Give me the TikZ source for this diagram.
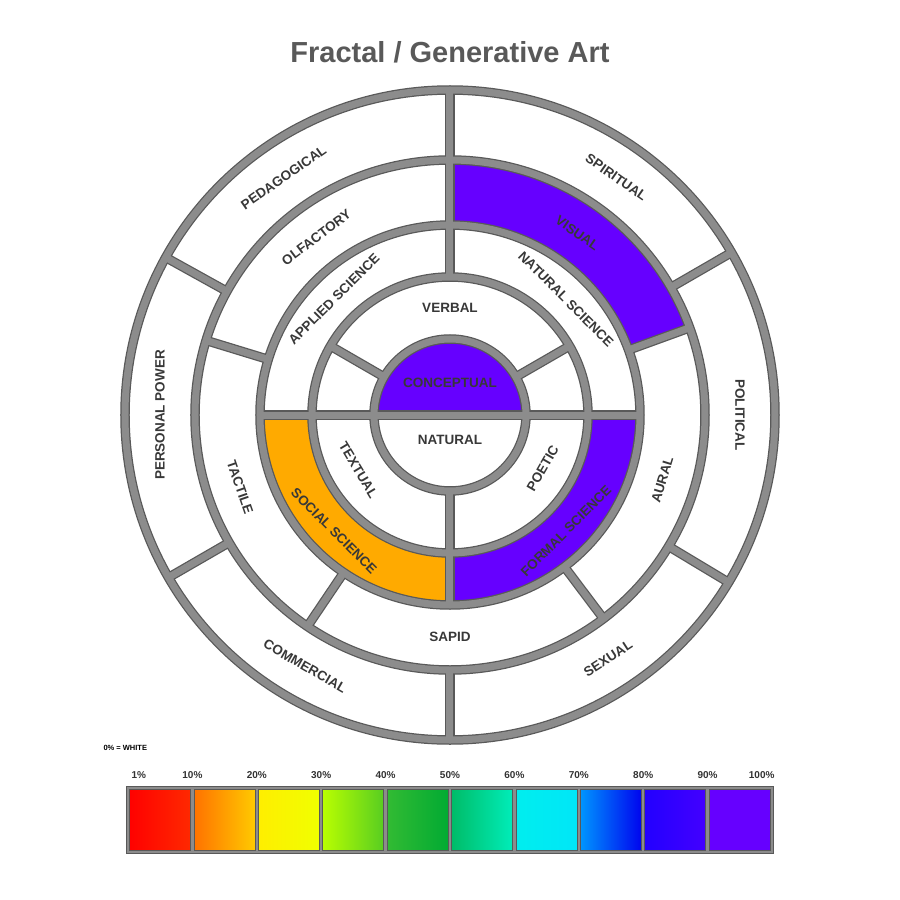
\documentclass[tikz,border=0pt]{standalone}
\usepackage{fontspec}
\setmainfont{Liberation Sans}
\begin{document}
\begin{tikzpicture}[x=1pt,y=1pt,
  lbl/.style={font=\fontsize{13.5}{14}\selectfont\bfseries, text=black!78},
  outl/.style={draw=black!65,line width=9.5pt},
  inl/.style={draw=black!45,line width=7pt},
  pct/.style={font=\fontsize{10}{10}\selectfont\bfseries, text=black!80}]
\definecolor{purp}{HTML}{6600FF}
\definecolor{orng}{HTML}{FFAA00}
\useasboundingbox (-450,415) rectangle (450,-485);
\fill[white] (-450,415) rectangle (450,-485);
\newcommand{\sect}[5]{\fill[#5] (#1:#3) arc (#1:#2:#3) -- (#2:#4) arc (#2:#1:#4) -- cycle;}
% colored sectors
\sect{0}{180}{0.01}{76}{purp}
\sect{20}{90}{190}{255}{purp}
\sect{180}{270}{138}{190}{orng}
\sect{270}{360}{138}{190}{purp}
\newcommand{\borders}[1]{%
  \draw[#1] (180:190) -- (0:190);
  \draw[#1] (150:76) -- (150:138);
  \draw[#1] (30:76) -- (30:138);
  \draw[#1] (270:76) -- (270:190);
  \draw[#1] (90:138) -- (90:325);
  \draw[#1] (20:190) -- (20:255);
  \draw[#1] (-53:190) -- (-53:255);
  \draw[#1] (-124:190) -- (-124:255);
  \draw[#1] (163:190) -- (163:255);
  \draw[#1] (30:255) -- (30:325);
  \draw[#1] (-31:255) -- (-31:325);
  \draw[#1] (-90:255) -- (-90:325);
  \draw[#1] (-150:255) -- (-150:325);
  \draw[#1] (151:255) -- (151:325);
  \foreach \r in {76,138,190,255,325} \draw[#1] (0,0) circle (\r);
}
\borders{outl}
\borders{inl}
% labels
\newcommand{\rl}[4]{\node[lbl,rotate=#3] (#4) at (#1:#2) {\MakeUppercase{#4}};}
\node[lbl] (conceptual) at (0,32) {CONCEPTUAL};
\node[lbl] (natural) at (0,-25) {NATURAL};
\node[lbl] (verbal) at (90:107) {VERBAL};
\node[lbl,rotate=-59] (textual) at (211:107) {TEXTUAL};
\node[lbl,rotate=60] (poetic) at (-30:107) {POETIC};
\node[lbl,rotate=45] (applied) at (135:164) {APPLIED SCIENCE};
\node[lbl,rotate=-45] (natsci) at (45:164) {NATURAL SCIENCE};
\node[lbl,rotate=-45] (social) at (225:164) {SOCIAL SCIENCE};
\node[lbl,rotate=45] (formal) at (-45:164) {FORMAL SCIENCE};
\node[lbl,rotate=37] (olf) at (127:222) {OLFACTORY};
\node[lbl,rotate=-35] (vis) at (55:222) {VISUAL};
\node[lbl,rotate=73] (aur) at (-17:222) {AURAL};
\node[lbl] (sap) at (-90:222) {SAPID};
\node[lbl,rotate=-71] (tac) at (199:222) {TACTILE};
\node[lbl,rotate=35] (ped) at (125:290) {PEDAGOGICAL};
\node[lbl,rotate=-35] (spi) at (55:290) {SPIRITUAL};
\node[lbl,rotate=-90] (pol) at (0:290) {POLITICAL};
\node[lbl,rotate=90] (pp) at (180:290) {PERSONAL POWER};
\node[lbl,rotate=-30] (com) at (-120:290) {COMMERCIAL};
\node[lbl,rotate=33] (sex) at (-57:290) {SEXUAL};
% title
\node[font=\fontsize{29}{30}\selectfont\bfseries, text=black!65] (title) at (0,363) {Fractal / Generative Art};
% legend
\node[font=\fontsize{7.5}{8}\selectfont\bfseries, anchor=west] (zero) at (-350,-333) {0\% = WHITE};
\def\cw{64.4}
\def\x0{-322}
\foreach \i/\a/\b in {0/FF0000/FF2A00,1/FF7000/FFCC00,2/FFEE00/F0FF00,3/BBFF00/55CC22,4/33BB33/00AA33,5/00BB66/00EEBB,6/00EEEE/00E6F8,7/0099FF/0000EE,8/2200FF/4400FF,9/6600FF/6600FF}{
  \definecolor{ca}{HTML}{\a}\definecolor{cb}{HTML}{\b}
  \shade[left color=ca,right color=cb] (\x0+\i*\cw,-373) rectangle (\x0+\i*\cw+\cw,-437);
}
\foreach \i in {0,...,10} \draw[black!65,line width=4.5pt] (\x0+\i*\cw,-373) -- (\x0+\i*\cw,-437);
\draw[black!65,line width=4.5pt] (\x0,-373) rectangle (\x0+10*\cw,-437);
\foreach \i in {0,...,10} \draw[black!45,line width=2.5pt] (\x0+\i*\cw,-373) -- (\x0+\i*\cw,-437);
\draw[black!45,line width=2.5pt] (\x0,-373) rectangle (\x0+10*\cw,-437);
\node[pct,anchor=west] (p1) at (\x0,-360) {1\%};
\foreach \i/\t in {1/10,2/20,3/30,4/40,5/50,6/60,7/70,8/80,9/90} \node[pct] (p\t) at (\x0+\i*\cw,-360) {\t\%};
\node[pct,anchor=east] (p100) at (\x0+10*\cw+6,-360) {100\%};
\end{tikzpicture}
\end{document}
